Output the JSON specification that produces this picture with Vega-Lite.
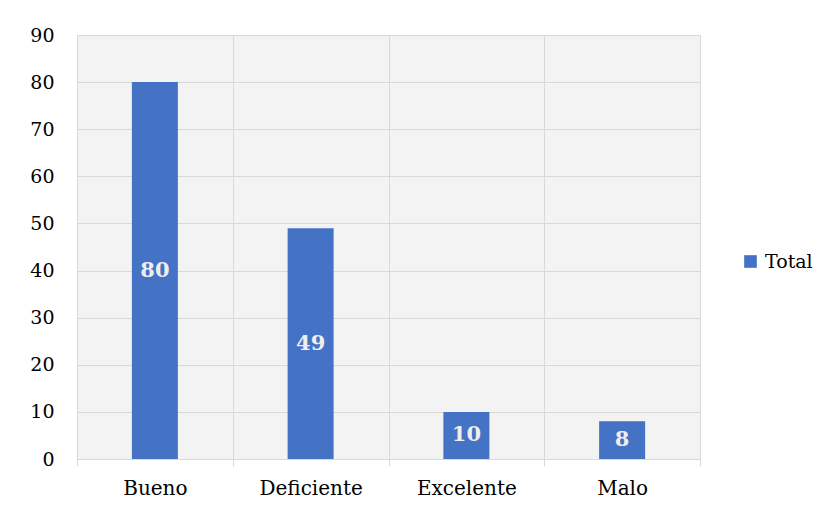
{
  "$schema": "https://vega.github.io/schema/vega-lite/v6.json",
  "autosize": "none",
  "padding": {"left": 77, "top": 35, "right": 129, "bottom": 54},
  "width": 623,
  "height": 424,
  "background": "white",
  "config": {
    "font": "DejaVu Serif",
    "view": {"stroke": "#d9d9d9", "fill": "#f3f3f3"}
  },
  "data": {
    "values": [
      {"categoria": "Bueno", "serie": "Total", "valor": 80},
      {"categoria": "Deficiente", "serie": "Total", "valor": 49},
      {"categoria": "Excelente", "serie": "Total", "valor": 10},
      {"categoria": "Malo", "serie": "Total", "valor": 8}
    ]
  },
  "encoding": {
    "x": {
      "field": "categoria",
      "type": "nominal",
      "sort": null,
      "scale": {"paddingInner": 0, "paddingOuter": 0},
      "axis": {
        "title": null,
        "labelAngle": 0,
        "labelFont": "DejaVu Serif",
        "labelFontSize": 20,
        "labelColor": "#000000",
        "labelPadding": 12,
        "tickSize": 7,
        "tickColor": "#d9d9d9",
        "tickBand": "extent",
        "domainColor": "#d9d9d9",
        "grid": true,
        "gridColor": "#d9d9d9"
      }
    }
  },
  "layer": [
    {
      "mark": {"type": "bar", "size": 46, "color": "#4472c4"},
      "encoding": {
        "y": {
          "field": "valor",
          "type": "quantitative",
          "scale": {"domain": [0, 90], "nice": false},
          "axis": {
            "title": null,
            "values": [0, 10, 20, 30, 40, 50, 60, 70, 80, 90],
            "ticks": false,
            "domain": false,
            "labelFont": "DejaVu Serif",
            "labelFontSize": 19,
            "labelColor": "#000000",
            "labelPadding": 23,
            "gridColor": "#d9d9d9"
          }
        },
        "color": {
          "field": "serie",
          "type": "nominal",
          "scale": {"range": ["#4472c4"]},
          "legend": {
            "title": null,
            "orient": "none",
            "legendX": 664,
            "legendY": 217,
            "symbolType": "square",
            "symbolSize": 160,
            "symbolStrokeWidth": 0,
            "labelFont": "DejaVu Serif",
            "labelFontSize": 19,
            "labelColor": "#000000",
            "labelOffset": 5,
            "padding": 0
          }
        }
      }
    },
    {
      "transform": [{"calculate": "datum.valor / 2", "as": "mitad"}],
      "mark": {"type": "text", "color": "#eeeeee", "fontWeight": "bold", "fontSize": 21, "font": "DejaVu Serif", "baseline": "middle"},
      "encoding": {
        "y": {"field": "mitad", "type": "quantitative", "scale": {"domain": [0, 90], "nice": false}},
        "text": {"field": "valor", "type": "quantitative"}
      }
    }
  ]
}
